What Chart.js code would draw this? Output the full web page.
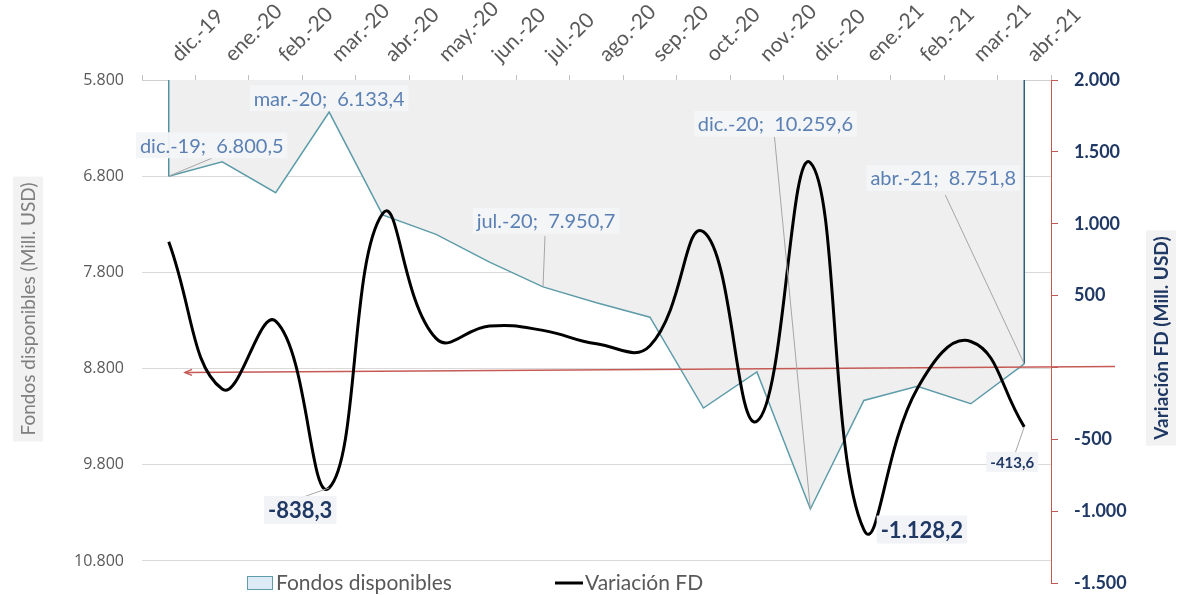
<!DOCTYPE html>
<html>
<head>
<meta charset="utf-8">
<script src="https://cdn.jsdelivr.net/npm/chart.js@4.4.1/dist/chart.umd.min.js"></script>
<style>
  html, body { margin: 0; padding: 0; background: #fff; }
  #wrap { width: 1177px; height: 595px; }
</style>
</head>
<body>
<div id="wrap"><canvas id="fdChart" width="1177" height="595"></canvas></div>
<script>
// fondos disponibles vs variacion mensual (Mill. USD)

const months = ["dic.-19", "ene.-20", "feb.-20", "mar.-20", "abr.-20", "may.-20", "jun.-20", "jul.-20",
    "ago.-20", "sep.-20", "oct.-20", "nov.-20", "dic.-20", "ene.-21", "feb.-21", "mar.-21", "abr.-21"];

const fondos = [6800.5, 6650.0, 6971.7, 6133.4, 7203.0, 7405.0, 7693.0, 7950.7,
    8115.0, 8266.0, 9210.0, 8835.0, 10259.6, 9131.4, 8985.0, 9165.4, 8751.8];

const variacion = [875.0, -150.5, 321.7, -838.3, 1069.6, 202.0, 288.0, 257.7,
    164.3, 151.0, 944.0, -375.0, 1424.6, -1128.2, -146.4, 180.4, -413.6];

const leftTicks = [5800, 6800, 7800, 8800, 9800, 10800];
const rightTicks = [2000, 1500, 1000, 500, 0, -500, -1000, -1500];

// points that carry a data label
const fondosLabelIdx = [0, 3, 7, 12, 16];
const variacionLabelIdx = [3, 13, 16];

const FONT = "Lato, 'Open Sans', sans-serif";
const TICK_FONT = "'Open Sans', 'Noto Sans', sans-serif";

// label placement relative to its point: dx,dy = text centre, lx,ly = leader start (from centre)
const labelPos = {
    fondos: {
        0: { dx: 43, dy: -31, lx: 0, ly: 13 },
        3: { dx: 0, dy: -14, lx: null },
        7: { dx: 3, dy: -66, lx: -1, ly: 15 },
        12: { dx: -35, dy: -385, lx: -1, ly: 12 },
        16: { dx: -81, dy: -186, lx: 2, ly: 17 }
    },
    variacion: {
        3: { dx: -29, dy: 22, lx: -2, ly: -11 },
        13: { dx: 58, dy: 0, lx: null },
        16: { dx: -12, dy: 35, lx: 3, ly: -9 }
    }
};

function fmtNum(v, dec) {
    const neg = v < 0;
    const parts = Math.abs(v).toFixed(dec).split(".");
    const ip = parts[0].replace(/\B(?=(\d{3})+(?!\d))/g, ".");
    return (neg ? "-" : "") + ip + (parts[1] ? "," + parts[1] : "");
}

function drawBoxLabel(ctx, text, cx, cy, font, color, bg, h) {
    ctx.save();
    ctx.font = font;
    const w = ctx.measureText(text).width;
    ctx.fillStyle = bg;
    ctx.fillRect(cx - w / 2 - 4, cy - h / 2, w + 8, h);
    ctx.fillStyle = color;
    ctx.textAlign = "center";
    ctx.textBaseline = "middle";
    ctx.fillText(text, cx, cy + 1);
    ctx.restore();
}

function leader(ctx, x1, y1, x2, y2) {
    ctx.save();
    ctx.strokeStyle = "#A6A6A6";
    ctx.lineWidth = 1;
    ctx.beginPath();
    ctx.moveTo(x1, y1);
    ctx.lineTo(x2, y2);
    ctx.stroke();
    ctx.restore();
}

const extras = {
    id: "extras",
    afterDatasetDraw(chart, args) {
        if (args.index !== 0) return;
        const ctx = chart.ctx;
        const pts = chart.getDatasetMeta(0).data;
        const top = chart.scales.y.getPixelForValue(leftTicks[0]);
        const first = pts[0], last = pts[pts.length - 1];

        // vertical edges of the area
        ctx.save();
        ctx.strokeStyle = "#4F93A3";
        ctx.lineWidth = 1.5;
        ctx.beginPath();
        ctx.moveTo(first.x, first.y);
        ctx.lineTo(first.x, top);
        ctx.stroke();
        ctx.strokeStyle = "#2F5F7A";
        ctx.beginPath();
        ctx.moveTo(last.x, last.y);
        ctx.lineTo(last.x, top);
        ctx.stroke();
        ctx.restore();

        // red zero reference arrow
        const ca = chart.chartArea;
        const y0 = chart.scales.y1.getPixelForValue(0);
        const xa = ca.left + 43, xb = ca.right + 64;
        ctx.save();
        ctx.strokeStyle = "#C55A55";
        ctx.lineWidth = 1.5;
        ctx.beginPath();
        ctx.moveTo(xb, y0 - 1);
        ctx.lineTo(xa, y0 + 5);
        ctx.stroke();
        ctx.beginPath();
        ctx.moveTo(xa + 7, y0 + 2);
        ctx.lineTo(xa, y0 + 5);
        ctx.lineTo(xa + 7, y0 + 8);
        ctx.stroke();
        ctx.restore();
    },
    afterDatasetsDraw(chart) {
        const ctx = chart.ctx;
        const fp = chart.getDatasetMeta(0).data;
        const vp = chart.getDatasetMeta(1).data;

        fondosLabelIdx.forEach(i => {
            const p = fp[i], o = labelPos.fondos[i];
            const cx = p.x + o.dx, cy = p.y + o.dy;
            if (o.lx !== null) leader(ctx, cx + o.lx, cy + o.ly, p.x, p.y);
            drawBoxLabel(ctx, months[i] + ";  " + fmtNum(fondos[i], 1), cx, cy,
                "20px " + FONT, "#5B80B4", "rgba(243,244,246,0.95)", 26);
        });

        variacionLabelIdx.forEach(i => {
            const p = vp[i], o = labelPos.variacion[i];
            const cx = p.x + o.dx, cy = p.y + o.dy;
            if (o.lx !== null) leader(ctx, cx + o.lx, cy + o.ly, p.x, p.y);
            const small = i === variacion.length - 1;
            drawBoxLabel(ctx, fmtNum(variacion[i], 1), cx, cy,
                "bold " + (small ? "15px " : "22px ") + FONT, "#1F3864",
                "rgba(240,242,245,0.95)", small ? 20 : 28);
        });
    },
    afterDraw(chart) {
        const ctx = chart.ctx;

        // axis titles with their grey boxes
        ctx.save();
        ctx.font = "19px " + FONT;
        let t = "Fondos disponibles (Mill. USD)";
        let w = ctx.measureText(t).width;
        ctx.translate(28, 309);
        ctx.rotate(-Math.PI / 2);
        ctx.fillStyle = "#F2F2F2";
        ctx.fillRect(-w / 2 - 6, -15, w + 12, 30);
        ctx.fillStyle = "#7F7F7F";
        ctx.textAlign = "center";
        ctx.textBaseline = "middle";
        ctx.fillText(t, 0, 1);
        ctx.restore();

        ctx.save();
        ctx.font = "bold 19px " + FONT;
        t = "Variación FD (Mill. USD)";
        w = ctx.measureText(t).width;
        ctx.translate(1161, 338);
        ctx.rotate(-Math.PI / 2);
        ctx.fillStyle = "#F2F2F2";
        ctx.fillRect(-w / 2 - 6, -15, w + 12, 30);
        ctx.fillStyle = "#1F3864";
        ctx.textAlign = "center";
        ctx.textBaseline = "middle";
        ctx.fillText(t, 0, 1);
        ctx.restore();

        // legend
        const ds = chart.data.datasets;
        const ly = 583;
        ctx.save();
        ctx.font = "21px " + FONT;
        ctx.textBaseline = "middle";
        ctx.fillStyle = "#DDEBF7";
        ctx.fillRect(247, ly - 6, 25, 13);
        ctx.strokeStyle = "#5E9CA9";
        ctx.lineWidth = 1;
        ctx.strokeRect(247.5, ly - 6.5, 25, 13);
        ctx.fillStyle = "#595959";
        ctx.fillText(ds[0].label, 276, ly);
        ctx.strokeStyle = "#000";
        ctx.lineWidth = 3;
        ctx.beginPath();
        ctx.moveTo(555, ly);
        ctx.lineTo(583, ly);
        ctx.stroke();
        ctx.fillText(ds[1].label, 585, ly);
        ctx.restore();
    }
};

const ctx = document.getElementById("fdChart");
new Chart(ctx, {
    type: "line",
    data: {
        labels: months,
        datasets: [
            {
                label: "Fondos disponibles",
                data: fondos,
                yAxisID: "y",
                borderColor: "#5E9CA9",
                borderWidth: 1.5,
                backgroundColor: "#EFEFEF",
                fill: { value: leftTicks[0] },
                pointRadius: 0,
                tension: 0,
                order: 2
            },
            {
                label: "Variación FD",
                data: variacion,
                yAxisID: "y1",
                borderColor: "#000000",
                borderWidth: 3,
                fill: false,
                pointRadius: 0,
                tension: 0.45,
                order: 1
            }
        ]
    },
    options: {
        responsive: false,
        animation: false,
        layout: { padding: { top: 0, bottom: 12, left: 0, right: 0 } },
        plugins: {
            legend: { display: false },
            tooltip: { enabled: false }
        },
        scales: {
            x: {
                position: "top",
                offset: true,
                afterFit: s => { s.height = 80; s.paddingLeft = 0; s.paddingRight = 0; },
                grid: { drawOnChartArea: false, offset: true, tickLength: 5, color: "#BFBFBF" },
                border: { color: "#D0D0D0" },
                ticks: {
                    autoSkip: false,
                    minRotation: 45,
                    maxRotation: 45,
                    padding: 8,
                    labelOffset: 24,
                    color: "#595959",
                    font: { family: FONT, size: 21 }
                }
            },
            y: {
                position: "left",
                reverse: true,
                min: 5800,
                max: 11029,
                afterFit: s => { s.width = 142; s.paddingTop = 0; s.paddingBottom = 0; },
                afterBuildTicks: s => { s.ticks = leftTicks.map(v => ({ value: v })); },
                grid: { color: "#D9D9D9", drawTicks: false },
                border: { display: false },
                ticks: {
                    padding: 18,
                    color: "#595959",
                    font: { family: TICK_FONT, size: 16 },
                    callback: v => fmtNum(v, 0)
                }
            },
            y1: {
                position: "right",
                min: -1500,
                max: 2000,
                afterFit: s => { s.width = 126; s.paddingTop = 0; s.paddingBottom = 0; },
                afterBuildTicks: s => { s.ticks = rightTicks.map(v => ({ value: v })); },
                grid: { drawOnChartArea: false, tickLength: 7, color: "#C55A55" },
                border: { color: "#C55A55", width: 1 },
                ticks: {
                    padding: 16,
                    color: "#1F3864",
                    font: { family: FONT, size: 18, weight: "bold" },
                    callback: v => (v === 0 ? "" : fmtNum(v, 0))
                }
            }
        }
    },
    plugins: [extras]
});
</script>
</body>
</html>
